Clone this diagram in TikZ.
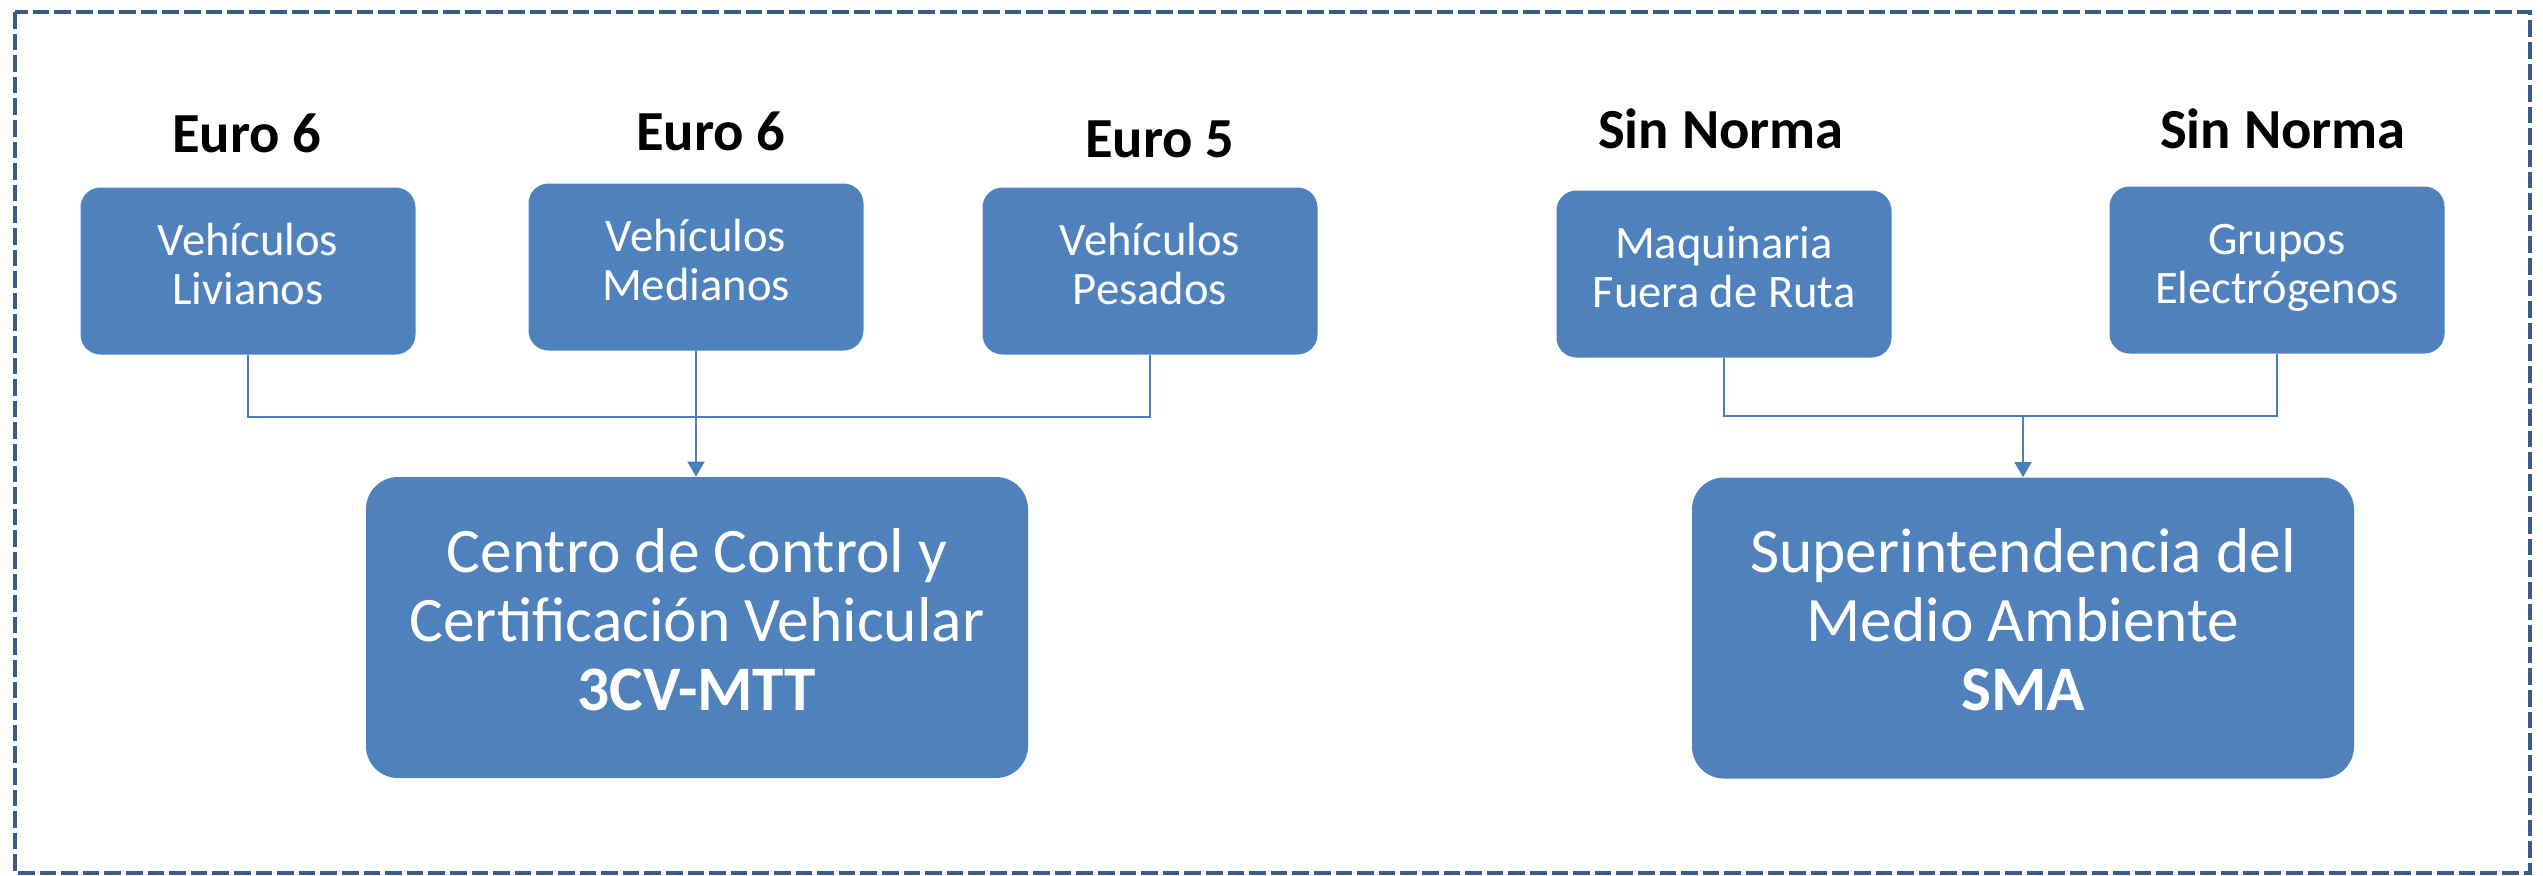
\documentclass[tikz,border=0pt]{standalone}
\usepackage{fontspec}
\setmainfont{Carlito}
\usetikzlibrary{arrows.meta}
\definecolor{boxblue}{HTML}{4F81BD}
\definecolor{linkblue}{HTML}{4A7EBB}
\definecolor{frameblue}{HTML}{385D8A}
\begin{document}
\begin{tikzpicture}[x=0.5pt, y=-0.5pt,
    catbox/.style={fill=boxblue, rounded corners=10pt, inner sep=0pt, minimum width=167.5pt, minimum height=83.5pt,
        text=white, align=center, font=\fontsize{23.3}{24.5}\selectfont, text height=35.5pt, text depth=2.5pt},
    agencybox/.style={fill=boxblue, rounded corners=16pt, inner sep=0pt, minimum width=331pt, minimum height=150.5pt,
        text=white, align=center, font=\fontsize{31.7}{34.5}\selectfont, text height=85pt, text depth=2.5pt},
    normlabel/.style={anchor=base, font=\fontsize{28.3}{34}\selectfont\bfseries},
    link/.style={draw=linkblue, line width=1pt},
    linkarrow/.style={link, -{Triangle[width=8.5pt,length=7.5pt]}}]
\useasboundingbox (0,0) rectangle (2543,875);

% Dashed frame
\draw[frameblue, line width=2.2pt, dash pattern=on 8.3pt off 2.5pt] (15,12) rectangle (2530,873);

% Vehicle categories and their norms
\node[catbox] (liv) at (248,271) {Vehículos\\Livianos};
\node[catbox] (med) at (696,267) {Vehículos\\Medianos};
\node[catbox] (pes) at (1150,271) {Vehículos\\Pesados};
\node[catbox] (maq) at (1724,274) {Maquinaria\\Fuera de Ruta};
\node[catbox] (gru) at (2277,270) {Grupos\\Electrógenos};

\node[normlabel] (nliv) at (247,152) {Euro 6};
\node[normlabel] (nmed) at (711,150) {Euro 6};
\node[normlabel] (npes) at (1160,157) {Euro 5};
\node[normlabel] (nmaq) at (1721,148) {Sin Norma};
\node[normlabel] (ngru) at (2283,148) {Sin Norma};

% Controlling bodies
\node[agencybox] (ccv) at (697,627.5) {Centro de Control y\\Certificación Vehicular\\\textbf{3CV-MTT}};
\node[agencybox] (sma) at (2023,628) {Superintendencia del\\Medio Ambiente\\\textbf{SMA}};

% Connectors
\coordinate (jvl) at (696,417);
\draw[link] (liv.south) |- (jvl) -| (pes.south);
\draw[linkarrow] (med.south) -- (med.south |- ccv.north);

\coordinate (jvr) at (2023,416);
\draw[link] (maq.south) |- (jvr) -| (gru.south);
\draw[linkarrow] (jvr) -- (jvr |- sma.north);

\end{tikzpicture}
\end{document}
